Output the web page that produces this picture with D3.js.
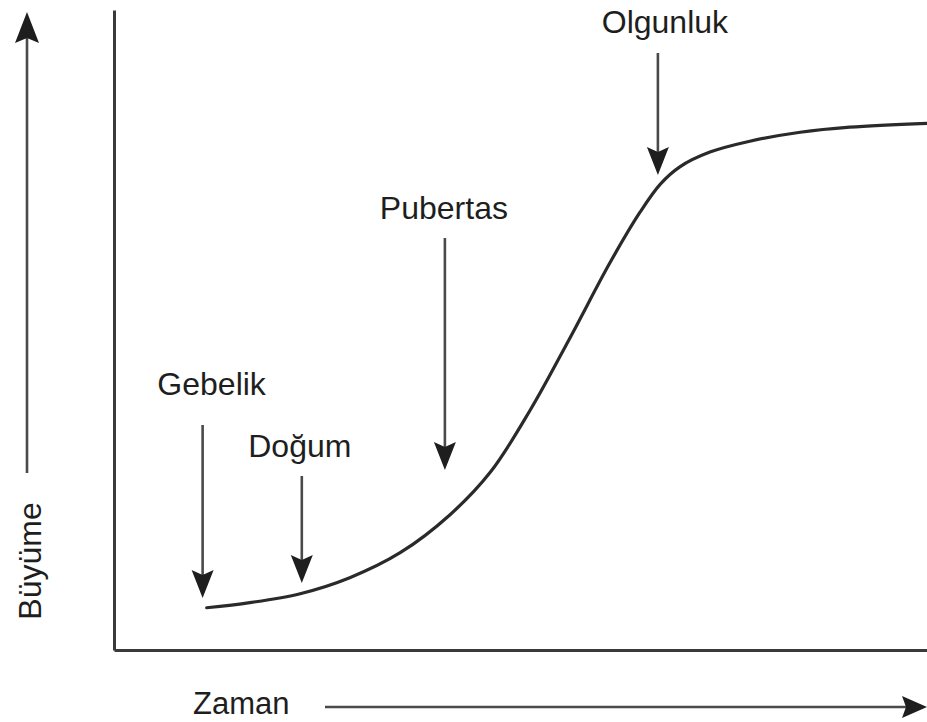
<!DOCTYPE html>
<html>
<head>
<meta charset="utf-8">
<script src="https://cdn.jsdelivr.net/npm/d3@7"></script>
<style>
  html, body { margin: 0; padding: 0; background: #fff; }
  svg { display: block; }
  text { font-family: "Liberation Sans", Arial, sans-serif; fill: #1e1e1e; }
</style>
</head>
<body>
<svg id="chart" width="927" height="722"></svg>
<script>
// Growth curve over time (relative units, 0–100 on both axes)
const time   = [11.4, 16.7, 22.9, 29.0, 35.2, 41.3, 46.3, 51.2, 56.1, 61.0, 64.7, 67.2, 69.6, 73.3, 78.2, 84.4, 90.5, 100];
const growth = [6.6,  7.4,  8.8, 11.3, 15.2, 21.1, 27.8, 37.5, 48.8, 60.5, 68.4, 72.8, 75.5, 77.8, 79.5, 80.9, 81.7, 82.3];

// Life stages marked on the curve
const stageNames = ["Gebelik", "Doğum", "Pubertas", "Olgunluk"];
const stageTimes = [10.9, 23.1, 40.7, 66.9];

const axisTitles = ["Zaman", "Büyüme"];

const svg = d3.select("#chart");
const x0 = 114, x1 = 927, y0 = 650, y1 = 10;

const x = d3.scaleLinear().domain([0, 100]).range([x0, x1]);
const y = d3.scaleLinear().domain([0, 100]).range([y0, y1]);

const ink = "#2a2a2a";

// Frame: plain axis lines with no ticks
svg.append("g")
  .attr("transform", `translate(0,${y0})`)
  .call(d3.axisBottom(x).ticks(0).tickSize(0).tickFormat(""))
  .call(g => g.select(".domain").attr("stroke", "#3a3a3a").attr("stroke-width", 3));
svg.append("g")
  .attr("transform", `translate(${x0},0)`)
  .call(d3.axisLeft(y).ticks(0).tickSize(0).tickFormat(""))
  .call(g => g.select(".domain").attr("stroke", "#3a3a3a").attr("stroke-width", 3));

// Growth curve
const pts = time.map((t, i) => [t, growth[i]]);
const line = d3.line().x(d => x(d[0])).y(d => y(d[1])).curve(d3.curveCatmullRom.alpha(0.5));
svg.append("path")
  .datum(pts)
  .attr("d", line)
  .attr("fill", "none")
  .attr("stroke", ink)
  .attr("stroke-width", 3.2)
  .attr("stroke-linecap", "round");

// Arrowhead pointing along +x, tip at origin
function head(len, half, notch) {
  return `M0,0 L${-len},${-half} L${-len + notch},0 L${-len},${half} Z`;
}

function arrow(xa, ya, xb, yb, len, half, notch) {
  const ang = Math.atan2(yb - ya, xb - xa) * 180 / Math.PI;
  const g = svg.append("g");
  const dx = xb - xa, dy = yb - ya, L = Math.hypot(dx, dy);
  const ex = xb - dx / L * (len - notch), ey = yb - dy / L * (len - notch);
  g.append("line")
    .attr("x1", xa).attr("y1", ya).attr("x2", ex).attr("y2", ey)
    .attr("stroke", "#4a4a4a").attr("stroke-width", 2.6);
  g.append("path")
    .attr("d", head(len, half, notch))
    .attr("transform", `translate(${xb},${yb}) rotate(${ang})`)
    .attr("fill", "#1e1e1e");
}

// Stage annotations: label, then a downward arrow onto the curve
const labelY   = [395, 457, 219, 33];
const arrowTop = [425, 476, 238, 53];
const arrowTip = [598, 583, 470, 175];
const labelDx  = [9, -2, -1, 7];

stageNames.forEach((name, i) => {
  const sx = x(stageTimes[i]);
  svg.append("text")
    .attr("x", sx + labelDx[i]).attr("y", labelY[i])
    .attr("text-anchor", "middle")
    .attr("font-size", 32)
    .text(name);
  arrow(sx, arrowTop[i], sx, arrowTip[i], 28, 11, 5);
});

// Axis titles with long arrows
svg.append("text")
  .attr("x", 193).attr("y", 714)
  .attr("font-size", 31)
  .text(axisTitles[0]);
arrow(325, 707, 927, 707, 25, 11, 4);

svg.append("text")
  .attr("transform", "translate(41,561) rotate(-90)")
  .attr("text-anchor", "middle")
  .attr("font-size", 32)
  .text(axisTitles[1]);
arrow(27, 473, 27, 12, 31, 12, 5);
</script>
</body>
</html>
